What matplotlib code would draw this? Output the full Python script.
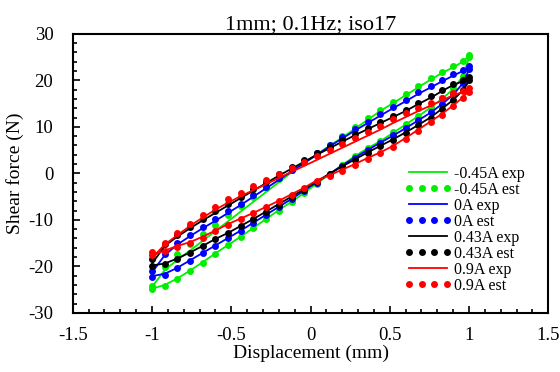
import numpy as np
import matplotlib
matplotlib.use("Agg")
import matplotlib.pyplot as plt
from matplotlib.ticker import MultipleLocator, FuncFormatter

plt.rcParams['font.family'] = ['Liberation Serif', 'DejaVu Serif']
plt.rcParams['axes.unicode_minus'] = False

# displacement grid, upper branch goes 1 -> -1, lower branch -1 -> 1
x_up = [1.0, 0.96, 0.90, 0.83, 0.76, 0.68, 0.60, 0.52, 0.44, 0.36, 0.28, 0.20, 0.12, 0.04,
        -0.04, -0.12, -0.20, -0.28, -0.36, -0.44, -0.52, -0.60, -0.68, -0.76, -0.84, -0.92, -1.0]
x_low = [-1.0, -0.92, -0.84, -0.76, -0.68, -0.60, -0.52, -0.44, -0.36, -0.28, -0.20, -0.12, -0.04,
         0.04, 0.12, 0.20, 0.28, 0.36, 0.44, 0.52, 0.60, 0.68, 0.76, 0.83, 0.90, 0.96, 1.0]

# -0.45A
g_est_up = [25.5, 24.2, 23.0, 21.9, 20.5, 18.8, 17.1, 15.4, 13.7, 11.8, 9.9, 8.0, 6.2, 4.4,
            2.6, 0.7, -1.2, -3.1, -5.0, -7.0, -9.0, -11.0, -13.0, -15.1, -17.4, -20.2, -24.2]
g_est_low = [-24.9, -24.3, -22.8, -21.0, -19.2, -17.3, -15.5, -13.7, -11.8, -9.9, -8.0, -6.2, -4.3,
             -2.3, -0.3, 1.8, 3.8, 5.5, 7.0, 8.8, 10.6, 12.4, 14.3, 16.2, 18.3, 21.0, 25.0]
g_exp_up = [25.3, 24.0, 22.8, 21.6, 20.2, 18.5, 16.8, 15.1, 13.4, 11.5, 9.6, 7.7, 5.9, 4.1,
            2.2, 0.2, -1.9, -4.0, -6.1, -8.2, -10.3, -12.4, -14.5, -16.6, -18.6, -20.8, -24.4]
g_exp_low = [-24.8, -24.0, -22.6, -20.9, -19.1, -17.2, -15.4, -13.6, -11.7, -9.8, -7.9, -6.1, -4.2,
             -2.2, -0.2, 1.8, 3.7, 5.4, 6.9, 8.7, 10.5, 12.3, 14.2, 16.0, 18.1, 20.8, 24.8]

# 0A
b_est_up = [23.0, 22.2, 21.3, 20.0, 18.8, 17.4, 15.8, 14.3, 12.7, 11.1, 9.5, 7.8, 6.1, 4.3,
            2.5, 0.7, -1.1, -2.9, -4.7, -6.5, -8.2, -9.9, -11.5, -13.2, -15.0, -17.3, -21.0]
b_est_low = [-22.3, -21.8, -20.4, -18.8, -17.2, -15.6, -14.0, -12.4, -10.7, -9.0, -7.3, -5.6, -3.8,
             -2.0, -0.2, 1.6, 3.3, 5.0, 6.6, 8.2, 9.8, 11.5, 13.2, 15.0, 17.0, 19.5, 22.5]
b_exp_up = [22.8, 22.0, 21.0, 19.8, 18.5, 17.1, 15.5, 14.0, 12.4, 10.8, 9.2, 7.5, 5.8, 4.0,
            2.2, 0.4, -1.4, -3.2, -5.0, -6.8, -8.5, -10.2, -11.8, -13.5, -15.3, -17.6, -21.3]
b_exp_low = [-22.1, -21.6, -20.3, -18.7, -17.1, -15.5, -13.9, -12.3, -10.6, -8.9, -7.2, -5.5, -3.7,
             -1.9, -0.1, 1.7, 3.4, 5.0, 6.6, 8.1, 9.7, 11.4, 13.1, 14.9, 16.9, 19.3, 22.3]

# 0.43A
k_est_up = [20.8, 20.0, 19.3, 18.0, 16.6, 15.2, 13.7, 12.4, 11.1, 9.8, 8.5, 7.1, 5.7, 4.3,
            2.8, 1.3, -0.2, -1.8, -3.4, -5.0, -6.6, -8.2, -9.8, -11.5, -13.3, -15.2, -18.5]
k_est_low = [-20.0, -19.6, -18.4, -17.1, -15.7, -14.2, -12.9, -11.4, -9.9, -8.3, -6.7, -5.1, -3.5,
             -1.8, -0.2, 1.4, 2.9, 4.4, 5.8, 7.2, 8.7, 10.3, 12.0, 13.8, 15.8, 18.0, 20.0]
k_exp_up = [20.6, 19.8, 19.0, 17.7, 16.3, 14.9, 13.4, 12.1, 10.8, 9.5, 8.2, 6.8, 5.4, 4.0,
            2.5, 1.0, -0.5, -2.1, -3.7, -5.3, -6.9, -8.5, -10.1, -11.8, -13.6, -15.6, -19.4]
k_exp_low = [-19.8, -19.4, -18.3, -17.0, -15.6, -14.1, -12.8, -11.3, -9.8, -8.2, -6.6, -5.0, -3.4,
             -1.7, -0.1, 1.5, 3.0, 4.5, 5.9, 7.3, 8.8, 10.4, 12.1, 13.9, 15.8, 17.8, 19.8]

# 0.9A
r_est_up = [18.3, 17.8, 17.2, 16.2, 15.2, 14.1, 12.9, 11.6, 10.2, 8.9, 7.6, 6.3, 5.0, 3.7,
            2.4, 1.1, -0.2, -1.5, -2.8, -4.2, -5.6, -7.2, -8.9, -10.8, -12.8, -14.9, -17.0]
r_est_low = [-17.5, -16.8, -15.8, -15.0, -13.8, -12.5, -11.0, -9.8, -8.6, -7.3, -6.0, -4.6, -3.2,
             -1.6, -0.6, 0.6, 1.8, 3.1, 4.3, 5.7, 7.4, 9.2, 11.0, 12.6, 14.4, 16.2, 17.5]
r_exp_up = [18.0, 17.5, 16.8, 15.7, 14.6, 13.4, 12.1, 10.8, 9.4, 8.1, 6.8, 5.5, 4.2, 2.9,
            1.6, 0.3, -1.0, -2.3, -3.6, -4.9, -6.3, -7.8, -9.5, -11.3, -13.3, -15.3, -18.2]
r_exp_low = [-17.6, -16.6, -15.6, -14.8, -13.6, -12.3, -10.9, -9.7, -8.5, -7.2, -5.9, -4.5, -3.1,
             -1.5, -0.4, 0.8, 2.0, 3.3, 4.5, 5.9, 7.6, 9.4, 11.2, 12.8, 14.6, 16.3, 17.8]

series = [
    ("-0.45A", "#00ee00", g_exp_up, g_exp_low, g_est_up, g_est_low),
    ("0A", "#0000ff", b_exp_up, b_exp_low, b_est_up, b_est_low),
    ("0.43A", "#000000", k_exp_up, k_exp_low, k_est_up, k_est_low),
    ("0.9A", "#ff0000", r_exp_up, r_exp_low, r_est_up, r_est_low),
]

fig = plt.figure(figsize=(5.6, 3.72), dpi=100)
ax = fig.add_axes([0.130, 0.159, 0.849, 0.750])

xs = x_up + x_low
for name, col, eu, el, su, sl in series:
    ax.plot(xs, eu + el, color=col, linewidth=1.3, label=name + " exp")
    ax.plot(xs, su + sl, color=col, linestyle="none", marker="o", markersize=5,
            markeredgewidth=0, label=name + " est")

ax.set_xlim(-1.5, 1.5)
ax.set_ylim(-30, 30)
ax.xaxis.set_major_locator(MultipleLocator(0.5))
ax.xaxis.set_minor_locator(MultipleLocator(0.1))
ax.xaxis.set_major_formatter(FuncFormatter(lambda v, p: "%g" % v))
ax.yaxis.set_major_locator(MultipleLocator(10))
ax.yaxis.set_minor_locator(MultipleLocator(2))
ax.tick_params(which="both", direction="in", top=False, right=False, labelsize=13.5, width=1.2)
ax.tick_params(which="major", length=5)
ax.tick_params(which="minor", length=3)
ax.tick_params(axis="x", which="major", pad=10)
ax.tick_params(axis="y", which="major", pad=14)
for sp in ax.spines.values():
    sp.set_linewidth(1.5)

ax.set_xlabel("Displacement (mm)", fontsize=14, labelpad=1)
ax.set_ylabel("Shear force (N)", fontsize=14, labelpad=3)
ax.set_title("1mm; 0.1Hz; iso17", fontsize=16, pad=2)

ax.legend(loc="upper left", bbox_to_anchor=(404 / 560, 1 - 166 / 372),
          bbox_transform=fig.transFigure, frameon=False, fontsize=11.5,
          handlelength=3.0, handletextpad=0.1, labelspacing=0.0, numpoints=4,
          borderaxespad=0, borderpad=0)

fig.savefig("out.png", dpi=100)
